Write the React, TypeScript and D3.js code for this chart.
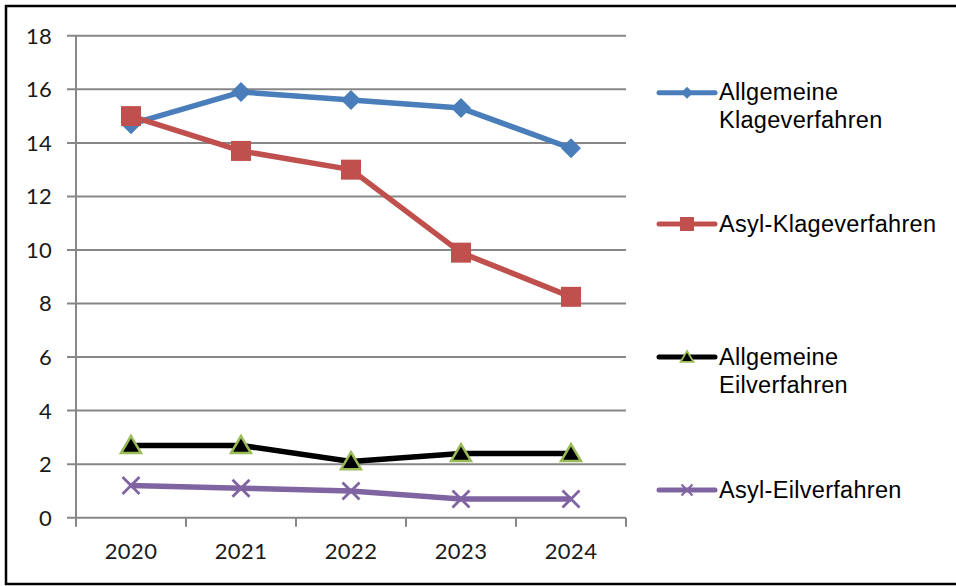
import React from "react";
import * as d3 from "d3";

const years = ["2020", "2021", "2022", "2023", "2024"];
const allgemeineKlage = [14.7, 15.9, 15.6, 15.3, 13.8];
const asylKlage = [15.0, 13.7, 13.0, 9.9, 8.25];
const allgemeineEil = [2.7, 2.7, 2.1, 2.4, 2.4];
const asylEil = [1.2, 1.1, 1.0, 0.7, 0.7];
const yTicks = [0, 2, 4, 6, 8, 10, 12, 14, 16, 18];

const seriesNames = [
  ["Allgemeine", "Klageverfahren"],
  ["Asyl-Klageverfahren"],
  ["Allgemeine", "Eilverfahren"],
  ["Asyl-Eilverfahren"],
];

const W = 956;
const H = 586;
const left = 76;
const right = 626;
const top = 35.8;
const bottom = 517.7;

const BLUE = "#4a7ebb";
const RED = "#c0504d";
const GREEN = "#9bbb59";
const PURPLE = "#8064a2";
const GRID = "#878787";

type Kind = "diamond" | "square" | "triangle" | "x";

function Marker({ kind, x, y, s }: { kind: Kind; x: number; y: number; s: number }) {
  if (kind === "diamond") {
    const h = s / 2;
    return <path d={`M${x},${y - h}L${x + h},${y}L${x},${y + h}L${x - h},${y}Z`} fill={BLUE} />;
  }
  if (kind === "square") {
    return <rect x={x - s / 2} y={y - s / 2} width={s} height={s} fill={RED} />;
  }
  if (kind === "triangle") {
    const h = s * 0.85;
    return (
      <path
        d={`M${x},${y - h * 0.55}L${x + s / 2},${y + h * 0.45}L${x - s / 2},${y + h * 0.45}Z`}
        fill="#000"
        stroke={GREEN}
        strokeWidth={s > 14 ? 2.5 : 1.8}
        strokeLinejoin="miter"
      />
    );
  }
  const h = s / 2;
  return (
    <path
      d={`M${x - h},${y - h}L${x + h},${y + h}M${x - h},${y + h}L${x + h},${y - h}`}
      stroke={PURPLE}
      strokeWidth={s > 12 ? 2.8 : 2.2}
      fill="none"
    />
  );
}

export default function App() {
  const x = d3.scaleBand<string>().domain(years).range([left, right]);
  const y = d3.scaleLinear().domain([0, 18]).range([bottom, top]);
  const cx = (yr: string) => (x(yr) as number) + x.bandwidth() / 2;
  const line = d3
    .line<number>()
    .x((_, i) => cx(years[i]))
    .y((v) => y(v));

  const series: { data: number[]; color: string; kind: Kind; size: number; legSize: number }[] = [
    { data: allgemeineKlage, color: BLUE, kind: "diamond", size: 20, legSize: 12 },
    { data: asylKlage, color: RED, kind: "square", size: 20, legSize: 14 },
    { data: allgemeineEil, color: "#000", kind: "triangle", size: 20, legSize: 13 },
    { data: asylEil, color: PURPLE, kind: "x", size: 17, legSize: 11 },
  ];

  const legLineY = [92.7, 224, 357, 490];
  const legBase = [100, 231.7, 365, 497.7];

  const xTickPositions = [...years.map((yr) => x(yr) as number), right];

  return (
    <div style={{ position: "absolute", left: 0, top: 0, width: W, height: H }}>
      <svg width={W} height={H} style={{ display: "block" }}>
        <rect x={0} y={0} width={W} height={H} fill="#fff" />
        <rect x={6} y={6} width={W + 10} height={578} fill="none" stroke="#000" strokeWidth={2.5} />
        {yTicks.map((t) => (
          <g key={t}>
            <line x1={67} x2={right} y1={y(t)} y2={y(t)} stroke={GRID} strokeWidth={2} />
            <text
              x={52}
              y={y(t)}
              dy="0.36em"
              textAnchor="end"
              fontFamily="Lato, 'Open Sans', sans-serif"
              fontSize={22}
              letterSpacing={0.3}
              fill="#1a1a1a"
            >
              {t}
            </text>
          </g>
        ))}
        <line x1={left} x2={left} y1={top} y2={bottom} stroke={GRID} strokeWidth={2} />
        {xTickPositions.map((p, i) => (
          <line key={i} x1={p} x2={p} y1={bottom} y2={bottom + 9} stroke={GRID} strokeWidth={2} />
        ))}
        {years.map((yr) => (
          <text
            key={yr}
            x={cx(yr)}
            y={559}
            textAnchor="middle"
            fontFamily="Lato, 'Open Sans', sans-serif"
            fontSize={22}
            letterSpacing={0.4}
            fill="#1a1a1a"
          >
            {yr}
          </text>
        ))}
        {series.map((s, si) => (
          <g key={si}>
            <path d={line(s.data) || ""} fill="none" stroke={s.color} strokeWidth={5.5} strokeLinejoin="round" />
            {s.data.map((v, i) => (
              <Marker key={i} kind={s.kind} x={cx(years[i])} y={y(v)} s={s.size} />
            ))}
          </g>
        ))}
        {series.map((s, si) => (
          <g key={si}>
            <line x1={659} x2={715} y1={legLineY[si]} y2={legLineY[si]} stroke={s.color} strokeWidth={5} strokeLinecap="round" />
            <Marker kind={s.kind} x={687} y={legLineY[si]} s={s.legSize} />
            {seriesNames[si].map((t, li) => (
              <text
                key={li}
                x={719}
                y={legBase[si] + li * 28}
                fontFamily="'Liberation Sans', Arial, sans-serif"
                fontSize={23.5}
                letterSpacing={0.3}
                fill="#000"
              >
                {t}
              </text>
            ))}
          </g>
        ))}
      </svg>
    </div>
  );
}
